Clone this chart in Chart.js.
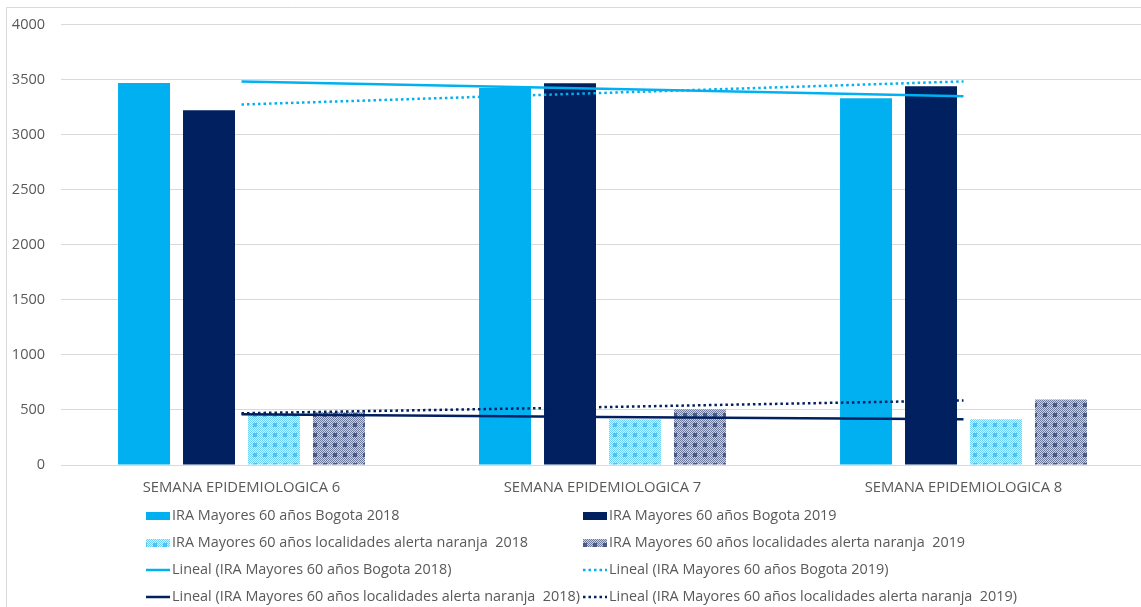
<!DOCTYPE html>
<html>
<head>
<meta charset="utf-8">
<script src="https://cdn.jsdelivr.net/npm/chart.js@4/dist/chart.umd.min.js"></script>
<style>
  html, body { margin: 0; padding: 0; background: #fff; overflow: hidden; }
  #wrap { position: relative; width: 1141px; height: 607px; overflow: hidden; }
  #wrap canvas { position: absolute; left: 0; top: 0; }
</style>
</head>
<body>
<div id="wrap"><canvas id="iraChart" width="1150" height="607"></canvas></div>
<script>
// IRA MAYORES 60 AÑOS - BARRAS + TENDENCIAS

const semanas = ["SEMANA EPIDEMIOLOGICA 6", "SEMANA EPIDEMIOLOGICA 7", "SEMANA EPIDEMIOLOGICA 8"];

const bogota2018 = [3470, 3425, 3332];
const bogota2019 = [3223, 3467, 3440];
const localidades2018 = [465, 415, 415];
const localidades2019 = [480, 506, 596];

// lineas de tendencia (Lineal)
const tendBogota2018 = [3485, 3418, 3350];
const tendBogota2019 = [3275, 3380, 3485];
const tendLocalidades2018 = [460, 436, 415];
const tendLocalidades2019 = [470, 526, 587];

const yTicks = [0, 500, 1000, 1500, 2000, 2500, 3000, 3500, 4000];

const azulClaro = "#00B0F0";
const azulOscuro = "#002060";
const gris = "#595959";
const rejilla = "#d9d9d9";

// trama de cuadritos para las barras de localidades
function makePattern(base, dot, block) {
    const size = 10;
    const c = document.createElement("canvas");
    c.width = size;
    c.height = size;
    const g = c.getContext("2d");
    g.fillStyle = base;
    g.fillRect(0, 0, size, size);
    for (let i = 0; i < size; i++) {
        for (let j = 0; j < size; j++) {
            if ((i + j) % 2 === 0) {
                g.fillStyle = dot;
                g.fillRect(i, j, 1, 1);
            }
        }
    }
    g.fillStyle = block;
    g.fillRect(3, 3, 4, 4);
    return g.createPattern(c, "repeat");
}

const tramaClara = makePattern("#d2f1fc", "#6fd0f4", "#4cc3f2");
const tramaOscura = makePattern("#cdd2de", "#6d7a9c", "#4a5a85");

const iraDiv = document.getElementById("iraChart");

const iraData = {
    labels: semanas,
    datasets: [
        {
            label: "IRA Mayores 60 años Bogota 2018",
            data: bogota2018,
            backgroundColor: azulClaro,
            order: 1
        },
        {
            label: "IRA Mayores 60 años Bogota 2019",
            data: bogota2019,
            backgroundColor: azulOscuro,
            order: 1
        },
        {
            label: "IRA Mayores 60 años localidades alerta naranja  2018",
            data: localidades2018,
            backgroundColor: tramaClara,
            order: 1
        },
        {
            label: "IRA Mayores 60 años localidades alerta naranja  2019",
            data: localidades2019,
            backgroundColor: tramaOscura,
            order: 1
        },
        {
            type: "line",
            label: "Lineal (IRA Mayores 60 años Bogota 2018)",
            data: tendBogota2018,
            borderColor: azulClaro,
            borderWidth: 2.5,
            pointRadius: 0,
            order: 0
        },
        {
            type: "line",
            label: "Lineal (IRA Mayores 60 años Bogota 2019)",
            data: tendBogota2019,
            borderColor: azulClaro,
            borderWidth: 2.5,
            borderDash: [2.5, 3],
            pointRadius: 0,
            order: 0
        },
        {
            type: "line",
            label: "Lineal (IRA Mayores 60 años localidades alerta naranja  2018)",
            data: tendLocalidades2018,
            borderColor: azulOscuro,
            borderWidth: 2.5,
            pointRadius: 0,
            order: 0
        },
        {
            type: "line",
            label: "Lineal (IRA Mayores 60 años localidades alerta naranja  2019)",
            data: tendLocalidades2019,
            borderColor: azulOscuro,
            borderWidth: 2.5,
            borderDash: [2.5, 3],
            pointRadius: 0,
            order: 0
        }
    ]
};

// marco del grafico
const marcoPlugin = {
    id: "marco",
    beforeDraw(chart) {
        const ctx = chart.ctx;
        ctx.save();
        ctx.fillStyle = "#fff";
        ctx.fillRect(0, 0, chart.width, chart.height);
        ctx.strokeStyle = rejilla;
        ctx.lineWidth = 1;
        ctx.beginPath();
        ctx.moveTo(6.5, chart.height);
        ctx.lineTo(6.5, 7.5);
        ctx.lineTo(chart.width, 7.5);
        ctx.stroke();
        ctx.restore();
    }
};

// leyenda en dos columnas
const leyendaPlugin = {
    id: "leyenda",
    afterDraw(chart) {
        const ctx = chart.ctx;
        const colX = [146, 583];
        const rowY = [516, 543, 570, 597];
        ctx.save();
        ctx.font = "14.4px 'Open Sans'";
        ctx.textBaseline = "middle";
        chart.data.datasets.forEach((ds, i) => {
            const x = colX[i % 2];
            const y = rowY[Math.floor(i / 2)];
            if (ds.type === "line") {
                ctx.strokeStyle = ds.borderColor;
                ctx.lineWidth = 2.5;
                ctx.setLineDash(ds.borderDash || []);
                ctx.beginPath();
                ctx.moveTo(x, y);
                ctx.lineTo(x + 24, y);
                ctx.stroke();
                ctx.setLineDash([]);
            } else {
                ctx.fillStyle = ds.backgroundColor;
                ctx.fillRect(x, y - 4, 24, 8);
            }
            ctx.fillStyle = gris;
            ctx.fillText(ds.label, x + 26, y);
        });
        ctx.restore();
    }
};

const iraChart = new Chart(iraDiv, {
    type: "bar",
    data: iraData,
    plugins: [marcoPlugin, leyendaPlugin],
    options: {
        responsive: false,
        animation: false,
        layout: {
            padding: { top: 22, right: 6, bottom: 102, left: 0 }
        },
        datasets: {
            bar: {
                categoryPercentage: 0.72,
                barPercentage: 0.8
            }
        },
        plugins: {
            legend: { display: false },
            tooltip: { enabled: false }
        },
        scales: {
            x: {
                grid: { display: false, drawTicks: false },
                border: { display: false },
                ticks: {
                    color: gris,
                    font: { family: "'Open Sans'", size: 14.8 },
                    padding: 14,
                    maxRotation: 0
                },
                afterFit(scale) { scale.height = 40; }
            },
            y: {
                min: 0,
                max: 4000,
                afterBuildTicks(scale) {
                    scale.ticks = yTicks.map(v => ({ value: v }));
                },
                grid: { color: rejilla, drawTicks: false, lineWidth: 1 },
                border: { display: false },
                ticks: {
                    color: gris,
                    font: { family: "'Open Sans'", size: 14.5 },
                    padding: 16,
                    callback: v => String(v)
                },
                afterFit(scale) { scale.width = 61; }
            }
        }
    }
});
</script>
</body>
</html>
